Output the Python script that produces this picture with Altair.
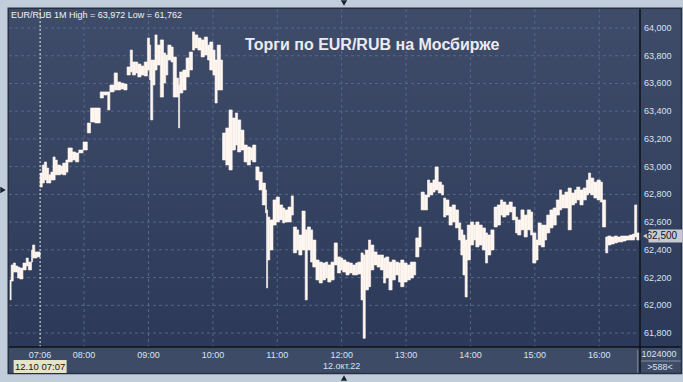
import altair as alt
import pandas as pd

# ---- data: 1-minute bars (bar index, high, low), EUR/RUB 12.10.2022 ----
idx = [0, 1, 3, 5, 7, 9, 12, 15, 17, 20,
       21, 23, 25, 28, 30, 32, 34, 36, 38, 40,
       42, 44, 47, 49, 52, 54, 58, 61, 64, 68,
       72, 75, 79, 84, 87, 91, 93, 97, 100, 103,
       106, 109, 112, 114, 117, 119, 122, 125, 128, 130,
       131, 133, 135, 137, 140, 143, 145, 147, 150, 152,
       155, 157, 158, 161, 164, 167, 170, 172, 175, 178,
       181, 184, 186, 189, 191, 193, 196, 198, 201, 204,
       207, 210, 212, 215, 218, 221, 224, 226, 229, 232,
       235, 238, 239, 240, 242, 245, 248, 251, 254, 256,
       259, 262, 264, 267, 269, 272, 275, 277, 280, 282,
       285, 288, 291, 294, 296, 299, 302, 305, 308, 310,
       313, 316, 319, 322, 324, 327, 329, 331, 334, 336,
       339, 342, 345, 348, 350, 353, 356, 359, 362, 364,
       367, 370, 373, 376, 378, 381, 383, 386, 389, 391,
       394, 396, 399, 402, 404, 406, 409, 412, 415, 418,
       420, 422, 424, 426, 429, 432, 434, 437, 440, 443,
       445, 448, 451, 454, 457, 459, 462, 465, 468, 471,
       473, 476, 479, 482, 485, 487, 490, 492, 495, 498,
       500, 503, 506, 509, 512, 514, 517, 520, 523, 526,
       528, 531, 534, 537, 539, 541, 544, 547, 550, 552,
       555, 557, 560, 563, 566, 569, 571, 574, 577, 580,
       582, 584]
high = [62.183, 62.291, 62.305, 62.284, 62.276, 62.269, 62.305, 62.341, 62.312, 62.399,
        62.435, 62.385, 62.385, 62.954, 63.012, 63.034, 62.990, 62.941, 62.961, 63.070,
        63.048, 63.012, 63.005, 63.026, 63.048, 63.135, 63.106, 63.099, 63.120, 63.178,
        63.315, 63.423, 63.423, 63.539, 63.539, 63.539, 63.589, 63.676, 63.611, 63.603,
        63.596, 63.719, 63.841, 63.755, 63.755, 63.740, 63.726, 63.755, 63.928, 63.877,
        63.769, 63.769, 63.950, 63.877, 63.914, 63.820, 63.805, 63.877, 63.863, 63.791,
        63.639, 63.589, 63.683, 63.697, 63.784, 63.827, 63.972, 63.950, 63.928, 63.914,
        63.935, 63.877, 63.899, 63.841, 63.769, 63.877, 63.769, 63.243, 63.279, 63.409,
        63.351, 63.387, 63.337, 63.264, 63.156, 63.142, 63.135, 63.156, 62.998, 62.961,
        62.882, 62.832, 62.688, 62.637, 62.616, 62.760, 62.781, 62.724, 62.702, 62.688,
        62.709, 62.789, 62.565, 62.544, 62.507, 62.680, 62.544, 62.565, 62.544, 62.471,
        62.327, 62.312, 62.305, 62.312, 62.291, 62.312, 62.450, 62.349, 62.341, 62.327,
        62.312, 62.305, 62.291, 62.305, 62.312, 62.378, 62.363, 62.399, 62.471, 62.435,
        62.385, 62.363, 62.363, 62.341, 62.349, 62.312, 62.327, 62.312, 62.305, 62.327,
        62.305, 62.291, 62.312, 62.312, 62.486, 62.565, 62.817, 62.796, 62.904, 62.882,
        62.904, 62.998, 62.889, 62.868, 62.774, 62.760, 62.709, 62.724, 62.688, 62.594,
        62.544, 62.507, 62.471, 62.579, 62.601, 62.579, 62.601, 62.579, 62.558, 62.522,
        62.507, 62.544, 62.709, 62.724, 62.760, 62.745, 62.724, 62.745, 62.709, 62.637,
        62.616, 62.688, 62.651, 62.688, 62.673, 62.522, 62.471, 62.594, 62.579, 62.579,
        62.651, 62.688, 62.702, 62.760, 62.832, 62.796, 62.817, 62.846, 62.810, 62.832,
        62.853, 62.832, 62.846, 62.904, 62.954, 62.918, 62.889, 62.904, 62.889, 62.760,
        62.493, 62.500, 62.493, 62.500, 62.493, 62.500, 62.500, 62.500, 62.507, 62.514,
        62.724, 62.522]
low = [62.039, 62.175, 62.240, 62.240, 62.197, 62.190, 62.255, 62.284, 62.255, 62.312,
       62.341, 62.341, 62.349, 62.853, 62.882, 62.904, 62.882, 62.882, 62.904, 62.904,
       62.941, 62.941, 62.947, 62.941, 62.961, 63.034, 63.048, 63.034, 63.099, 63.120,
       63.243, 63.322, 63.315, 63.495, 63.517, 63.409, 63.539, 63.553, 63.553, 63.560,
       63.553, 63.661, 63.683, 63.661, 63.676, 63.647, 63.661, 63.654, 63.697, 63.625,
       63.337, 63.589, 63.697, 63.733, 63.502, 63.603, 63.661, 63.769, 63.755, 63.502,
       63.502, 63.279, 63.531, 63.553, 63.647, 63.697, 63.841, 63.856, 63.841, 63.791,
       63.805, 63.769, 63.697, 63.661, 63.459, 63.553, 63.553, 63.048, 63.012, 62.976,
       63.120, 63.156, 63.106, 63.120, 63.034, 63.012, 63.048, 63.034, 62.904, 62.832,
       62.724, 62.666, 62.125, 62.327, 62.399, 62.579, 62.601, 62.616, 62.594, 62.601,
       62.601, 62.651, 62.378, 62.399, 62.363, 62.399, 62.039, 62.399, 62.312, 62.276,
       62.183, 62.161, 62.183, 62.197, 62.168, 62.183, 62.291, 62.233, 62.255, 62.240,
       62.219, 62.233, 62.219, 62.219, 62.226, 62.039, 61.762, 62.111, 62.134, 62.255,
       62.291, 62.276, 62.255, 62.161, 62.197, 62.111, 62.183, 62.219, 62.168, 62.134,
       62.168, 62.183, 62.197, 62.219, 62.349, 62.421, 62.688, 62.688, 62.781, 62.796,
       62.817, 62.832, 62.810, 62.796, 62.637, 62.651, 62.579, 62.601, 62.558, 62.471,
       62.363, 62.219, 62.060, 62.327, 62.435, 62.471, 62.421, 62.435, 62.399, 62.305,
       62.363, 62.399, 62.565, 62.579, 62.651, 62.637, 62.651, 62.673, 62.616, 62.522,
       62.507, 62.544, 62.493, 62.544, 62.507, 62.305, 62.327, 62.435, 62.421, 62.471,
       62.522, 62.558, 62.579, 62.651, 62.688, 62.702, 62.702, 62.544, 62.724, 62.738,
       62.760, 62.724, 62.760, 62.796, 62.810, 62.796, 62.774, 62.760, 62.745, 62.565,
       62.378, 62.435, 62.442, 62.450, 62.457, 62.457, 62.464, 62.471, 62.471, 62.471,
       62.493, 62.471]
last_idx = 587
assert len(idx) == len(high) == len(low)

tick_idx = [28, 69, 129, 189, 249, 309, 369, 429, 489, 549]
tick_lab = ["07:06", "08:00", "09:00", "10:00", "11:00", "12:00", "13:00", "14:00", "15:00", "16:00"]
hour_idx = [69, 129, 189, 249, 309, 369, 429, 489, 549]
y_ticks = [61.8, 62.0, 62.2, 62.4, 62.6, 62.8, 63.0, 63.2, 63.4, 63.6, 63.8, 64.0]
cursor_idx = [28]
cursor_text = ["12.10 07:07"]
date_idx = [309]
date_text = ["12.окт.22"]
last_price = [62.500]
info_text = "EUR/RUB 1M High = 63,972 Low = 61,762"
title_text = "Торги по EUR/RUB на Мосбирже"
volume_text = "1024000"
count_text = ">588<"

# ---- styling ----
W, H = 631, 338
FONT = "Liberation Sans"
NARROW = "Liberation Sans Narrow, Liberation Sans"
LAB = "#d6e2f4"
BAR = "#fff6f0"
GRID = "#56678a"

bars = pd.DataFrame({"i": idx, "hi": high, "lo": low})
bars["i2"] = list(idx[1:]) + [last_idx]

xs = alt.Scale(domain=[-1, 587], nice=False, zero=False)
ys = alt.Scale(domain=[61.6994, 64.137], nice=False, zero=False)

one = alt.Data(values=[{"k": 0}])


def rect(x0, x1, y0, y1, **kw):
    return alt.Chart(one).mark_rect(**kw).encode(
        x=alt.value(x0), x2=alt.value(x1), y=alt.value(y0), y2=alt.value(y1))


def rule(x0, x1, y0, y1, **kw):
    return alt.Chart(one).mark_rule(**kw).encode(
        x=alt.value(x0), x2=alt.value(x1), y=alt.value(y0), y2=alt.value(y1))


def text(x, y, t, font=FONT, **kw):
    return alt.Chart(one).mark_text(text=t, font=font, **kw).encode(x=alt.value(x), y=alt.value(y))


grad = alt.Gradient(gradient="linear",
                    stops=[alt.GradientStop(color="#3f4c69", offset=0),
                           alt.GradientStop(color="#2c3958", offset=1)],
                    x1=0, x2=0, y1=0, y2=1)

bg_plot = rect(0, W, 0, H, color=grad)
bg_right = rect(W, 672, 0, H, color=grad)
bg_bottom = rect(0, 672, H, 364, color="#3e4b66")

grid_y = alt.Chart(pd.DataFrame({"g": y_ticks})).mark_rule(
    color=GRID, strokeDash=[3, 3], strokeWidth=1).encode(
    y=alt.Y("g:Q", scale=ys, axis=None), x=alt.value(0), x2=alt.value(W))
grid_x = alt.Chart(pd.DataFrame({"h": hour_idx})).mark_rule(
    color=GRID, strokeDash=[3, 3], strokeWidth=1).encode(
    x=alt.X("h:Q", scale=xs, axis=None), y=alt.value(0), y2=alt.value(H))

cursor = alt.Chart(pd.DataFrame({"c": cursor_idx})).mark_rule(
    color="#e8e8ee", strokeDash=[2, 2], strokeWidth=1).encode(
    x=alt.X("c:Q", scale=xs, axis=None), y=alt.value(0), y2=alt.value(H))

bar_layer = alt.Chart(bars).mark_rect(color=BAR, stroke=BAR, strokeWidth=0.6).encode(
    x=alt.X("i:Q", scale=xs, axis=None), x2="i2:Q",
    y=alt.Y("hi:Q", scale=ys, axis=None), y2="lo:Q")

# axis labels drawn through the scales
ylab_df = pd.DataFrame({"v": y_ticks})
ylab_df["t"] = [f"{v:.3f}".replace(".", ",") for v in y_ticks]
y_labels = alt.Chart(ylab_df).mark_text(font=FONT, fontSize=9, color=LAB, align="left",
                                        baseline="middle").encode(
    x=alt.value(635), y=alt.Y("v:Q", scale=ys, axis=None), text="t:N")
x_labels = alt.Chart(pd.DataFrame({"v": tick_idx, "t": tick_lab})).mark_text(
    font=FONT, fontSize=9, color=LAB, align="center", baseline="middle").encode(
    x=alt.X("v:Q", scale=xs, axis=None), y=alt.value(346), text="t:N")

title = text(236, 36, title_text, fontSize=16, fontWeight="bold", color="#ecebf1",
             align="left", baseline="middle")
info = text(2, 6, info_text, fontSize=9, color="#f2f2f4", align="left", baseline="middle")

vline = rule(W, W, 0, 364, color="#0e1218", strokeWidth=1.5)
hline = rule(0, 672, H, H, color="#0e1218", strokeWidth=1.5)
gline = rule(628.7, 628.7, 341, 364, color="#7a879c", strokeWidth=1)
sep = rule(632, 672, 352, 352, color="#8090a6", strokeWidth=1)
frame = rect(-0.75, 672.5, -0.75, 364.5, filled=False, stroke="#263040", strokeWidth=1.5)

vol = text(650, 345, volume_text, font=NARROW, fontSize=9, color=LAB, align="center",
           baseline="middle")
cnt = text(651, 358, count_text, font=NARROW, fontSize=9, color=LAB, align="center",
           baseline="middle")

date_lbl = alt.Chart(pd.DataFrame({"d": date_idx, "t": date_text})).mark_text(
    font=FONT, fontSize=9, color=LAB, baseline="middle").encode(
    x=alt.X("d:Q", scale=xs, axis=None), y=alt.value(357), text="t:N")

cur_box = alt.Chart(pd.DataFrame({"c": cursor_idx})).mark_tick(
    orient="horizontal", size=53, thickness=13, color="#e7e3c8", opacity=1).encode(
    x=alt.X("c:Q", scale=xs, axis=None), y=alt.value(357.5))
cur_txt = alt.Chart(pd.DataFrame({"c": cursor_idx, "t": cursor_text})).mark_text(
    font=FONT, fontSize=9.5, color="#151515", baseline="middle").encode(
    x=alt.X("c:Q", scale=xs, axis=None), y=alt.value(357.5), text="t:N")

price = pd.DataFrame({"p": last_price})
price["lab"] = [f"{v:.3f}".replace(".", ",") for v in last_price]
tag_box = alt.Chart(price).mark_tick(orient="horizontal", size=34, thickness=13,
                                      color="#c6cad2", opacity=1).encode(
    x=alt.value(656.5), y=alt.Y("p:Q", scale=ys, axis=None))
tag_arrow = alt.Chart(price).mark_point(shape="triangle-left", filled=True, size=70,
                                        color="#c6cad2", opacity=1).encode(
    x=alt.value(637.5), y=alt.Y("p:Q", scale=ys, axis=None))
tag_txt = alt.Chart(price).mark_text(font=FONT, fontSize=10, color="#0c1420", align="left",
                                     baseline="middle").encode(
    x=alt.value(637.5), y=alt.Y("p:Q", scale=ys, axis=None), text="lab:N")

tri_top = alt.Chart(one).mark_point(shape="triangle-down", filled=True, size=40, color="#1a2230",
                                    opacity=1).encode(x=alt.value(335), y=alt.value(-6))
tri_bot = alt.Chart(one).mark_point(shape="triangle-up", filled=True, size=40, color="#1a2230",
                                    opacity=1).encode(x=alt.value(335), y=alt.value(369))
tri_left = alt.Chart(one).mark_point(shape="triangle-right", filled=True, size=40, color="#1a2230",
                                     opacity=1).encode(x=alt.value(-6), y=alt.value(181))

chart = alt.layer(
    bg_plot, bg_right, bg_bottom, grid_y, grid_x, cursor, bar_layer, title, info,
    vline, hline, gline, sep, frame, y_labels, x_labels, vol, cnt, date_lbl, cur_box, cur_txt,
    tag_box, tag_arrow, tag_txt, tri_top, tri_bot, tri_left
).properties(
    width=W, height=H,
    padding={"left": 9, "top": 9, "right": 43, "bottom": 35},
    autosize=alt.AutoSizeParams(type="none"),
    background="#c2cddb",
).configure_view(strokeWidth=0)

chart.save("out.html", embed_options={"renderer": "svg", "actions": False})
